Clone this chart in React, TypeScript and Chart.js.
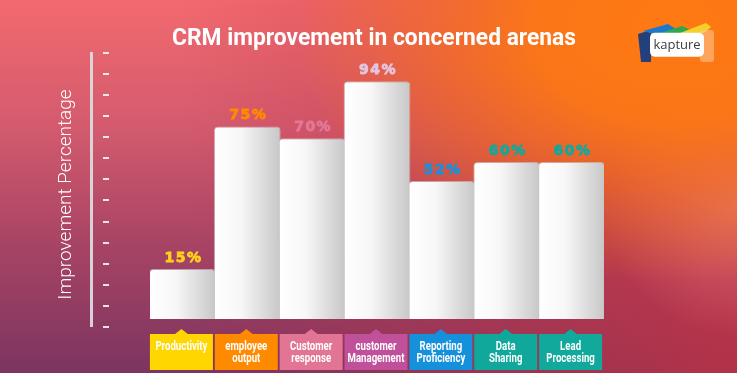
import React, { useEffect, useRef } from "react";
import { Chart, registerables } from "chart.js";

Chart.register(...registerables);

const TITLE = "CRM improvement in concerned arenas";
const Y_TITLE = "Improvement Percentage";
const CATEGORIES: string[][] = [
  ["Productivity"],
  ["employee", "output"],
  ["Customer", "response"],
  ["customer", "Management"],
  ["Reporting", "Proficiency"],
  ["Data", "Sharing"],
  ["Lead", "Processing"],
];
const VALUES = [15, 75, 70, 94, 52, 60, 60];
const VALUE_LABELS = ["15%", "75%", "70%", "94%", "52%", "60%", "60%"];
const LABEL_COLORS = ["#FFD21A", "#FF8A00", "#E07898", "#E2C6E2", "#1E8FD8", "#14A89C", "#14A89C"];
const BOX_COLORS = ["#FFD600", "#FF8A00", "#E27494", "#C0509A", "#1590DA", "#10A89A", "#10A99B"];
const AXIS_TICK_COUNT = 14;

function condensedText(ctx: CanvasRenderingContext2D, text: string, x: number, y: number, sx: number) {
  ctx.save();
  ctx.translate(x, y);
  ctx.scale(sx, 1);
  ctx.fillText(text, 0, 0);
  ctx.restore();
}

const decorPlugin = {
  id: "decor",
  afterDatasetsDraw(chart: any) {
    const ctx = chart.ctx;
    const meta = chart.getDatasetMeta(0);
    ctx.save();
    ctx.font = "bold 14px 'DejaVu Sans', sans-serif";
    (ctx as any).letterSpacing = "1.5px";
    ctx.textAlign = "center";
    ctx.textBaseline = "alphabetic";
    ctx.lineWidth = 0.8;
    meta.data.forEach((el: any, i: number) => {
      ctx.fillStyle = LABEL_COLORS[i];
      ctx.strokeStyle = LABEL_COLORS[i];
      ctx.fillText(VALUE_LABELS[i], el.x + 1, el.y - 7);
      ctx.strokeText(VALUE_LABELS[i], el.x + 1, el.y - 7);
    });
    ctx.restore();
  },
  afterDraw(chart: any) {
    const ctx = chart.ctx;
    const xs = chart.scales.x;
    // title
    ctx.save();
    ctx.fillStyle = "#ffffff";
    ctx.font = "bold 24px Roboto, sans-serif";
    ctx.textAlign = "center";
    ctx.textBaseline = "alphabetic";
    const tw = ctx.measureText(TITLE).width;
    condensedText(ctx, TITLE, 374, 45, 404 / tw);
    ctx.restore();

    // decorative y axis line + dashes
    ctx.save();
    ctx.fillStyle = "rgba(218,218,222,0.95)";
    ctx.fillRect(90, 52, 3, 275);
    ctx.fillStyle = "rgba(255,255,255,0.85)";
    const step = (327 - 52.7) / (AXIS_TICK_COUNT - 1);
    for (let i = 0; i < AXIS_TICK_COUNT; i++) {
      const y = Math.round(52.7 + i * step);
      ctx.fillRect(103, y - 1, 6, 2);
    }
    ctx.translate(66, 194.5);
    ctx.rotate(-Math.PI / 2);
    ctx.fillStyle = "#ffffff";
    ctx.font = "300 19px Roboto, sans-serif";
    ctx.textAlign = "center";
    ctx.textBaseline = "middle";
    ctx.fillText(Y_TITLE, 0, 0);
    ctx.restore();

    // category boxes
    ctx.save();
    CATEGORIES.forEach((lines, i) => {
      const cx = xs.getPixelForValue(i) - 1;
      const w = 63;
      const left = cx - w / 2;
      const top = 334;
      const bottom = 370;
      ctx.fillStyle = BOX_COLORS[i];
      ctx.fillRect(left, top, w, bottom - top);
      ctx.beginPath();
      ctx.moveTo(cx - 7, top + 0.5);
      ctx.lineTo(cx, top - 5);
      ctx.lineTo(cx + 7, top + 0.5);
      ctx.closePath();
      ctx.fill();
      ctx.fillStyle = "#ffffff";
      ctx.font = "bold 12px Roboto, sans-serif";
      ctx.textAlign = "center";
      ctx.textBaseline = "middle";
      lines.forEach((t, j) => {
        condensedText(ctx, t, cx, 347 + j * 12, 0.8);
      });
    });
    ctx.restore();
  },
};

function Logo() {
  return (
    <svg
      width={90}
      height={50}
      viewBox="630 20 90 50"
      style={{ position: "absolute", left: 630, top: 20 }}
    >
      <polygon points="638,34 651,30 651,62 641,62" fill="#24407C" />
      <polygon points="643,31 668,24 682,33 650,33" fill="#1A78CE" />
      <polygon points="660,33 682,26 697,33" fill="#31A650" />
      <polygon points="680,33 706,23 711,27 704,33" fill="#F4D12A" />
      <rect x={700} y={30} width={14} height={32} rx={3} fill="rgba(255,200,150,0.55)" />
      <rect x={650} y={32.7} width={54} height={24} rx={5} fill="#ffffff" />
      <text
        x={677}
        y={49}
        textAnchor="middle"
        fontFamily="'Open Sans', sans-serif"
        fontSize={13}
        fill="#3d3d3d"
      >
        kapture
      </text>
    </svg>
  );
}

export default function App() {
  const canvasRef = useRef<HTMLCanvasElement | null>(null);

  useEffect(() => {
    const canvas = canvasRef.current;
    if (!canvas) return;
    const chart = new Chart(canvas, {
      type: "bar",
      data: {
        labels: CATEGORIES.map((c) => c.join(" ")),
        datasets: [
          {
            data: VALUES,
            base: -6,
            backgroundColor: (context: any) => {
              const ch = context.chart;
              const xs = ch.scales.x;
              if (!xs || !ch.chartArea) return "#f4f4f4";
              const cx = xs.getPixelForValue(context.dataIndex);
              const w = (ch.chartArea.right - ch.chartArea.left) / VALUES.length;
              const g = ch.ctx.createLinearGradient(cx - w / 2, 0, cx + w / 2, 0);
              g.addColorStop(0, "#ffffff");
              g.addColorStop(0.4, "#f7f7f7");
              g.addColorStop(1, "#c8c8c8");
              return g;
            },
            borderColor: "rgba(200,200,200,0.7)",
            borderWidth: 1,
            borderSkipped: "bottom",
            borderRadius: { topLeft: 4, topRight: 4, bottomLeft: 0, bottomRight: 0 },
            barPercentage: 1.03,
            categoryPercentage: 1,
          } as any,
        ],
      },
      options: {
        animation: false,
        responsive: false,
        devicePixelRatio: 1,
        layout: { padding: { left: 150, right: 133, top: 67, bottom: 54 } },
        scales: {
          x: { display: false },
          y: { display: false, min: -6, max: 100 },
        },
        plugins: {
          legend: { display: false },
          tooltip: { enabled: false },
          title: { display: false },
        },
      },
      plugins: [decorPlugin],
    });
    return () => chart.destroy();
  }, []);

  return (
    <div
      style={{
        position: "fixed",
        left: 0,
        top: 0,
        width: 737,
        height: 373,
        overflow: "hidden",
        background:
          "radial-gradient(ellipse 65% 85% at 92% 8%, rgba(255,122,18,1) 0%, rgba(255,122,18,0.9) 30%, rgba(255,122,18,0) 80%)," +
          "radial-gradient(ellipse 18% 35% at 100% 55%, rgba(240,140,140,0.55) 0%, rgba(240,140,140,0) 100%)," +
          "linear-gradient(to right, rgba(205,55,65,0) 25%, rgba(195,50,65,0.75) 100%)," +
          "linear-gradient(180deg, #F26A6E 0%, #D25A6E 35%, #A84464 65%, #7C3460 100%)",
      }}
    >
      <canvas ref={canvasRef} width={737} height={373} style={{ display: "block" }} />
      <Logo />
    </div>
  );
}
